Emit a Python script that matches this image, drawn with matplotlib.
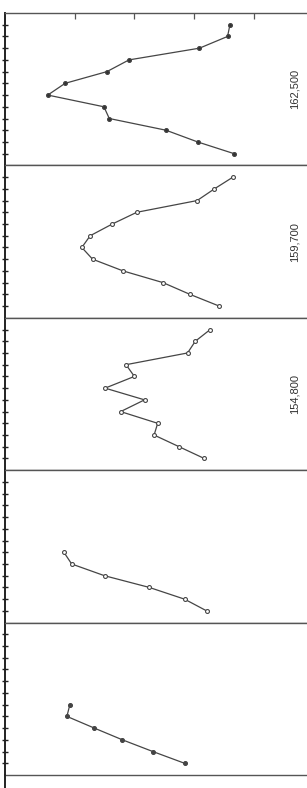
import numpy as np
import matplotlib.pyplot as plt
from matplotlib.lines import Line2D

# valores (5 painéis, 12 níveis cada; nan = sem ponto)
levels = np.arange(1, 13)
panel1 = [36.0, 35.6, 30.9, 19.1, 15.4, 8.4, 5.5, 14.9, 15.8, 25.3, 30.6, 36.7]
panel2 = [36.5, 33.4, 30.5, 20.4, 16.3, 12.6, 11.2, 13.0, 18.1, 24.8, 29.3, 34.2]
panel3 = [32.7, 30.2, 28.9, 18.6, 20.0, 15.1, 21.7, 17.7, 23.9, 23.3, 27.5, 31.7]
panel4 = [np.nan] * 6 + [8.2, 9.5, 15.0, 22.5, 28.4, 32.1]
panel5 = [np.nan] * 6 + [9.2, 8.7, 13.3, 18.0, 23.1, 28.4]
panels = [panel1, panel2, panel3, panel4, panel5]
labels = ['162,500', '159,700', '154,800', '', '']
x_ticks = [10, 20, 30, 40]

face = ['#333333', 'white', 'white', 'white', '#444444']

W, H = 307, 788
fig = plt.figure(figsize=(W / 100, H / 100), dpi=100)
top_px, bot_px, left_px = 13, 775, 5
gs = fig.add_gridspec(5, 1, left=left_px / W, right=1.0,
                      top=1 - top_px / H, bottom=1 - bot_px / H, hspace=0)

line_col = '#454545'
for i, vals in enumerate(panels):
    ax = fig.add_subplot(gs[i, 0])
    ax.plot(vals, levels, color=line_col, lw=0.9, marker='o', ms=2.8,
            mfc=face[i], mec=line_col, mew=0.8)
    ax.set_xlim(-1.66, 48.9)
    ax.set_ylim(13, 0)
    ax.set_yticks(levels)
    ax.set_yticklabels([])
    ax.tick_params(axis='y', direction='inout', length=4.5, width=1.0, color='#222222')
    ax.spines['right'].set_visible(False)
    ax.spines['left'].set_linewidth(1.4)
    ax.spines['left'].set_color('#222222')
    for s in ('top', 'bottom'):
        ax.spines[s].set_linewidth(1.0)
        ax.spines[s].set_color('#555555')
    if i == 0:
        ax.xaxis.set_ticks_position('top')
        ax.set_xticks(x_ticks)
        ax.set_xticklabels([])
        ax.tick_params(axis='x', direction='in', length=4, width=0.9, color='#555555')
    else:
        ax.set_xticks([])
    if labels[i]:
        ax.text(46.9, 6.5, labels[i], rotation=90, ha='center', va='center',
                fontsize=8, family='Liberation Sans', color='#333333')

# prolongamento do eixo vertical abaixo do último painel
fig.add_artist(Line2D([left_px / W, left_px / W], [0, 1 - bot_px / H],
                      transform=fig.transFigure, color='#222222', lw=1.4))

fig.savefig('out.png', dpi=100)
